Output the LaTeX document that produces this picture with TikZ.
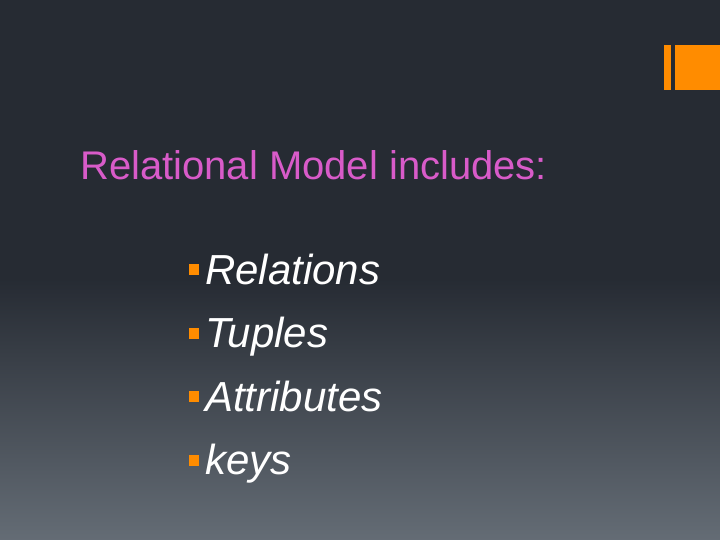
\documentclass[tikz,border=0pt]{standalone}
\usepackage{fontspec}
\setmainfont{Liberation Sans}
\definecolor{slidetop}{HTML}{262B33}
\definecolor{slidebot}{HTML}{646C75}
\definecolor{accent}{HTML}{FF8C00}
\definecolor{titlepink}{HTML}{D85BC9}
\tikzset{
  item/.style={anchor=base west,text=white,font=\fontsize{42}{48}\selectfont\itshape,inner sep=0pt},
  bullet/.style={fill=accent,draw=none}
}
\begin{document}
\begin{tikzpicture}[x=1pt,y=-1pt]

  % background
  \fill[slidetop] (0,0) rectangle (720,280);
  \shade[top color=slidetop,bottom color=slidebot] (0,279) rectangle (720,540);
  \useasboundingbox (0,0) rectangle (720,540);

  % corner marks
  \fill[accent] (664,45) rectangle (671,90);
  \fill[accent] (675,45) rectangle (720,90);

  \node[anchor=base west,text=titlepink,font=\fontsize{40}{46}\selectfont,inner sep=0pt]
    (title) at (80,180) {Relational Model includes:};

  \foreach \txt [count=\i] in {Relations,Tuples,Attributes,keys} {
    \pgfmathsetmacro{\yb}{284+(\i-1)*63.5}
    \node[item] (it\i) at (205,\yb) {\txt};
    \fill[bullet] (189,\yb-20) rectangle (199,\yb-9);
  }

\end{tikzpicture}
\end{document}
